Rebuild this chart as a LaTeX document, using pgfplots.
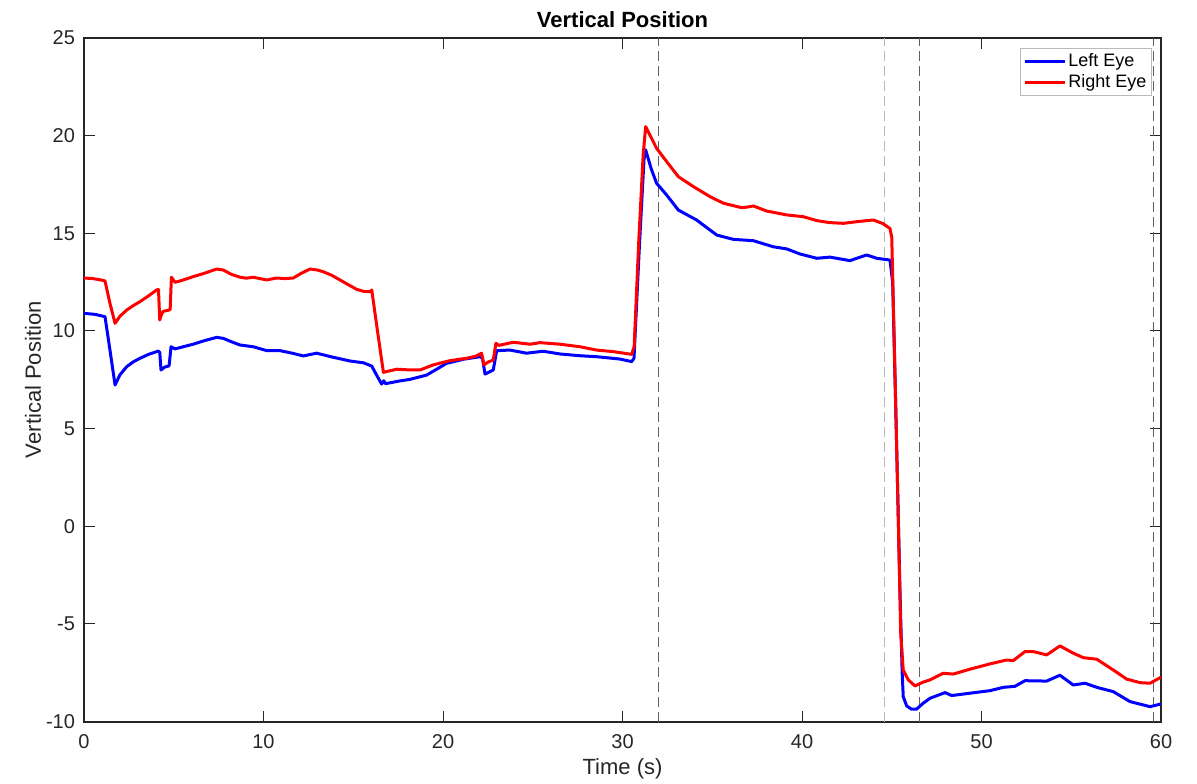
\documentclass[border=0pt]{standalone}
\usepackage{pgfplots}
\pgfplotsset{compat=1.18}
\usepackage{fontspec}
\setmainfont{Liberation Sans}
\definecolor{axgray}{RGB}{38,38,38}
\definecolor{dashdark}{RGB}{95,95,95}
\definecolor{dashlight}{RGB}{185,185,185}
\begin{document}
\begin{tikzpicture}
\begin{axis}[
  scale only axis,
  width=538.5pt, height=341.75pt,
  xmin=0, xmax=60, ymin=-10, ymax=25,
  xtick={0,10,...,60}, ytick={-10,-5,...,25},
  axis line style={axgray, line width=1pt},
  tick style={axgray, line width=0.5pt},
  tick align=inside, major tick length=5.5pt,
  tick pos=both,
  /pgf/number format/assume math mode=true,
  ticklabel style={font=\fontsize{10}{12}\selectfont, text=axgray},
  xticklabel style={yshift=-3pt},
  yticklabel style={xshift=-1pt},
  every axis title shift=0pt,
  title={Vertical Position},
  title style={font=\bfseries\fontsize{11}{13}\selectfont, at={(axis description cs:0.5,1)}, anchor=base, yshift=5pt, inner sep=0pt, text=black},
  xlabel={Time (s)},
  xlabel style={font=\fontsize{11}{13}\selectfont, at={(axis description cs:0.5,0)}, anchor=north, yshift=-18.5pt, inner sep=0pt, text=axgray},
  ylabel={Vertical Position},
  ylabel style={font=\fontsize{11}{13}\selectfont, at={(axis description cs:-0.0474,0.5)}, anchor=center, rotate=0, text=axgray},
  legend style={at={(axis description cs:1,1)}, anchor=north east, xshift=-4.6pt, yshift=-5pt,
    draw=gray!55, line width=0.5pt, font=\fontsize{9}{10}\selectfont, inner sep=1.5pt, row sep=0.5pt,
    nodes={inner sep=1pt}},
  legend cell align=left,
  legend image code/.code={\draw[#1] (0pt,0pt) -- (20pt,0pt);},
]
% vertical dashed markers
\addplot[dashdark, line width=0.5pt, dash pattern=on 5pt off 2.5pt, forget plot] coordinates {(32.03,-10) (32.03,25)};
\addplot[dashlight, line width=0.5pt, dash pattern=on 5pt off 2.5pt, forget plot] coordinates {(44.57,-10) (44.57,25)};
\addplot[dashdark, line width=0.5pt, dash pattern=on 5pt off 2.5pt, forget plot] coordinates {(46.55,-10) (46.55,25)};
\addplot[dashdark, line width=0.5pt, dash pattern=on 5pt off 2.5pt, forget plot] coordinates {(59.57,-10) (59.57,25)};

\addplot[blue, line width=1.5pt, line join=round] table {
x y
0 10.9
0.6 10.85
1.17 10.73
1.45 9.0
1.73 7.23
2.0 7.75
2.38 8.17
2.75 8.42
3.12 8.6
3.6 8.8
4.14 8.97
4.22 8.9
4.29 8.0
4.5 8.15
4.74 8.21
4.85 9.19
5.07 9.08
6.08 9.32
6.7 9.5
7.39 9.67
7.76 9.62
8.2 9.45
8.69 9.28
9.43 9.19
10.18 8.99
10.92 8.99
11.6 8.86
12.22 8.72
12.96 8.86
13.89 8.65
14.82 8.46
15.56 8.37
16.03 8.2
16.3 7.74
16.58 7.28
16.7 7.45
16.8 7.3
17.6 7.44
18.16 7.52
19.09 7.74
20.2 8.34
21.14 8.55
22.06 8.68
22.2 8.6
22.34 7.79
22.8 8.0
22.99 8.99
23.73 9.02
24.66 8.86
25.58 8.96
26.52 8.82
27.63 8.73
28.56 8.68
29.86 8.56
30.51 8.43
30.64 8.6
30.95 14.5
31.2 18.8
31.29 19.27
31.6 18.3
31.9 17.56
32.46 16.96
33.11 16.19
34.13 15.68
35.25 14.91
36.17 14.69
37.29 14.62
38.4 14.31
39.15 14.2
39.89 13.94
40.82 13.72
41.56 13.78
42.67 13.6
43.6 13.89
44.16 13.72
44.9 13.63
45.05 12.5
45.25 5
45.45 -3
45.58 -7.5
45.64 -8.73
45.83 -9.2
46.1 -9.37
46.38 -9.37
46.7 -9.1
47.13 -8.81
47.97 -8.52
48.34 -8.67
49.36 -8.55
50.47 -8.42
51.21 -8.25
51.86 -8.2
52.42 -7.91
53.63 -7.93
54.37 -7.63
55.11 -8.13
55.77 -8.04
56.42 -8.25
57.34 -8.47
58.27 -8.98
59.39 -9.24
60.0 -9.1
};
\addlegendentry{Left Eye}

\addplot[red, line width=1.5pt, line join=round] table {
x y
0 12.71
0.5 12.68
1.0 12.6
1.17 12.56
1.45 11.4
1.73 10.39
2.0 10.75
2.38 11.07
2.75 11.3
3.12 11.5
3.6 11.8
4.05 12.1
4.15 12.12
4.22 10.56
4.3 10.8
4.4 11.0
4.74 11.07
4.8 11.1
4.87 12.75
5.07 12.49
5.5 12.6
6.08 12.78
6.7 12.95
7.39 13.17
7.76 13.12
8.2 12.9
8.69 12.75
9.05 12.7
9.43 12.75
10.18 12.61
10.73 12.71
11.2 12.68
11.66 12.71
12.1 12.95
12.59 13.17
13.0 13.12
13.33 13.03
13.8 12.85
14.26 12.61
14.7 12.38
15.19 12.13
15.6 12.02
15.93 12.01
16.03 12.1
16.35 10.0
16.68 7.88
17.42 8.04
18.2 8.0
18.72 8.0
19.45 8.26
20.39 8.48
21.32 8.6
21.8 8.7
22.15 8.86
22.28 8.26
22.5 8.4
22.8 8.51
22.95 9.37
23.1 9.26
23.92 9.42
24.85 9.32
25.4 9.4
26.52 9.32
27.63 9.19
28.56 9.02
29.49 8.94
30.51 8.8
30.65 9.2
30.9 14.5
31.15 19.0
31.29 20.46
31.6 19.9
31.9 19.35
32.46 18.67
33.11 17.9
33.95 17.39
34.87 16.88
35.62 16.54
36.64 16.31
37.0 16.35
37.29 16.4
38.03 16.14
39.15 15.94
40.07 15.85
40.82 15.65
41.5 15.55
42.3 15.51
43.1 15.6
43.97 15.68
44.5 15.5
44.9 15.25
45.0 14.8
45.15 9
45.35 1
45.5 -5.5
45.64 -7.36
45.92 -7.87
46.3 -8.18
46.7 -8.0
47.13 -7.87
47.87 -7.53
48.43 -7.57
49.36 -7.32
50.47 -7.05
51.4 -6.85
51.77 -6.88
52.42 -6.42
52.89 -6.42
53.63 -6.59
54.37 -6.13
55.11 -6.5
55.67 -6.73
56.42 -6.81
57.34 -7.36
58.09 -7.83
58.83 -8.01
59.39 -8.04
60.0 -7.73
};
\addlegendentry{Right Eye}
\end{axis}
\pgfresetboundingbox
\path ([xshift=-42pt,yshift=-30.75pt]current axis.south west) rectangle ([xshift=18pt,yshift=19pt]current axis.north east);
\end{tikzpicture}
\end{document}
